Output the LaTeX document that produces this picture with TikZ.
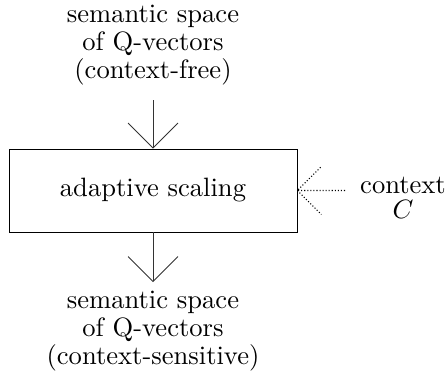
\documentclass[tikz,border=0pt]{standalone}
\usepackage{amsmath}
\usepackage{tikz}
\usetikzlibrary{positioning, calc, arrows.meta}
\tikzstyle{Arrow} = [
%open arrow head, wide V
line width=0.3pt, -{Straight Barb[length=9.4pt, width=18.8pt, line width=0.3pt]}
]

\begin{document}
\begin{tikzpicture}[x=0.3765pt, y=-0.3765pt,
			space/.style = {align=center, inner sep=0pt, font={\fontsize{10}{10.4}\selectfont}},
			process/.style = {rectangle, draw, line width=0.3pt, minimum width = 108.4pt, minimum height = 31.3pt},
			flow/.style = {Arrow, draw=black!80},
			hint/.style = {line width=0.4pt, dash pattern=on 0.4pt off 0.75pt},
		]
		\useasboundingbox (0,0) rectangle (448,377);

		\node[process](scale) at (153,190.5){adaptive scaling};
		\node[space](top) at (153,45){semantic space\\of Q-vectors\\(context-free)};
		\node[space](bot) at (153,331){semantic space\\of Q-vectors\\(context-sensitive)};
		\node[space, font={\fontsize{10}{9.6}\selectfont}](ctx) at (403,198){context\\\(C\)};
		\coordinate(in) at (153,100);
		\coordinate(out) at (153,282);
		\coordinate(cue) at (345,190.5);

		\draw[flow](in)--(scale.north);
		\draw[flow](scale.south)--(out);
		\draw[hint](cue)--(scale.east) --+(24,-24) (scale.east)--+(24,24);

	\end{tikzpicture}
\end{document}
